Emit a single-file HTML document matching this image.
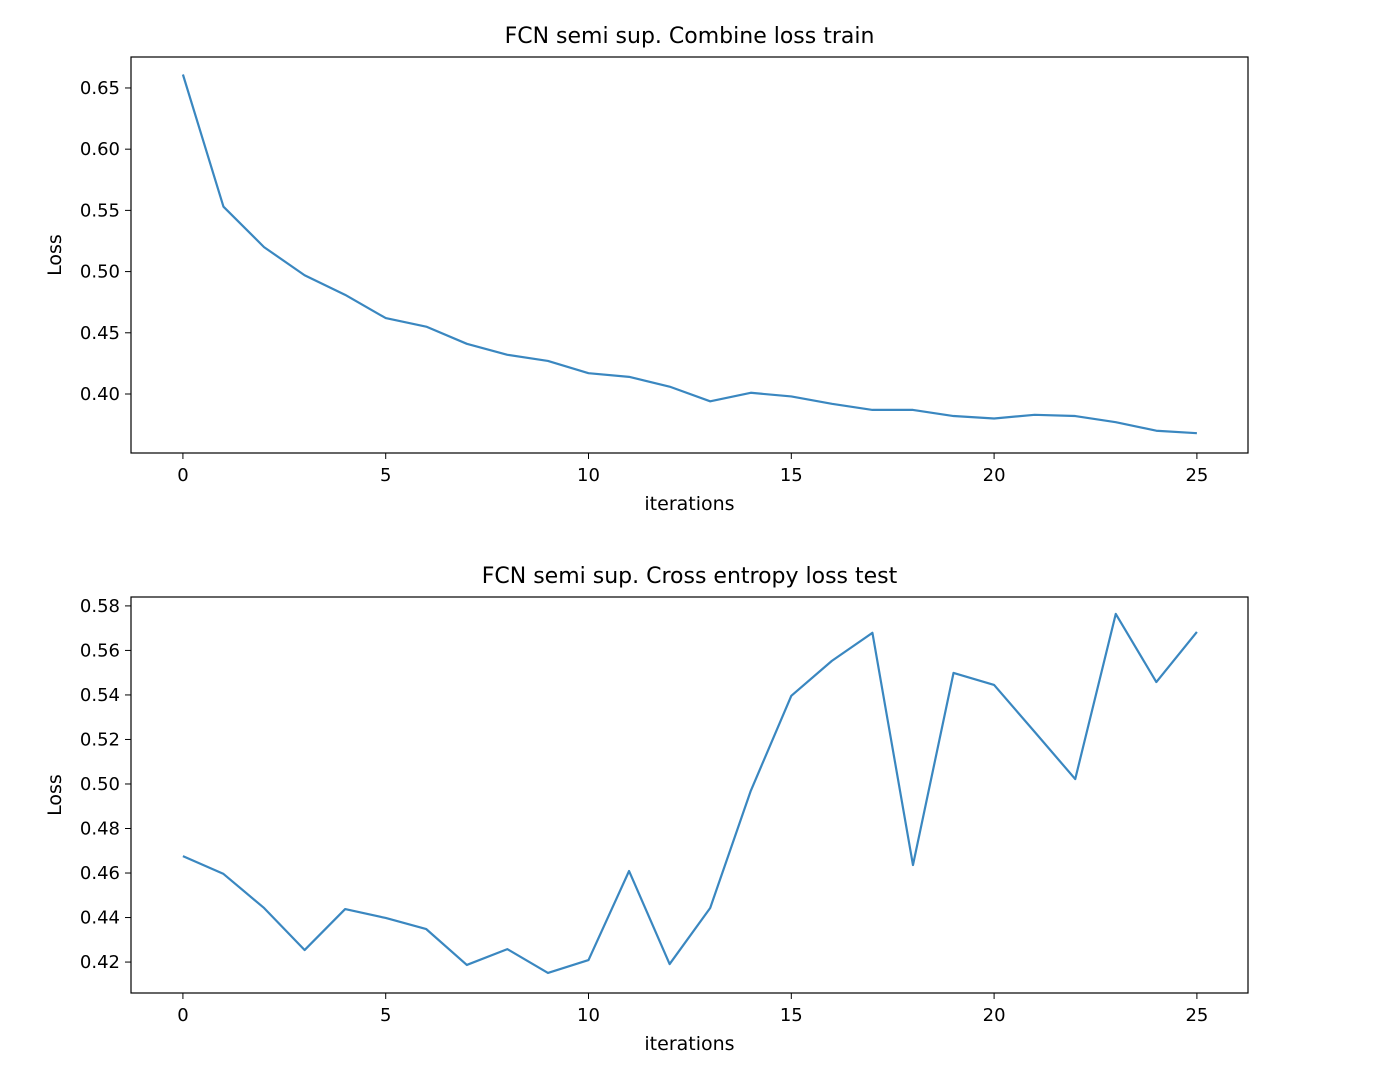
<!DOCTYPE html>
<html><head><meta charset="utf-8"><style>
body{margin:0;background:#fff;}
svg{display:block;font-family:"DejaVu Sans","Liberation Sans",sans-serif;}
</style></head><body>
<svg id="chart" width="1386" height="1090" viewBox="0 0 1386 1090"></svg>
<script>
const iterations=[0,1,2,3,4,5,6,7,8,9,10,11,12,13,14,15,16,17,18,19,20,21,22,23,24,25];
const trainLoss=[0.661,0.553,0.520,0.497,0.481,0.462,0.455,0.441,0.432,0.427,0.417,0.414,0.406,0.394,0.401,0.398,0.392,0.387,0.387,0.382,0.380,0.383,0.382,0.377,0.370,0.368];
const testLoss=[0.4676,0.4596,0.4443,0.4254,0.4438,0.4398,0.4348,0.4187,0.4258,0.4151,0.4209,0.4609,0.4191,0.4443,0.4969,0.5396,0.5553,0.5679,0.4636,0.5499,0.5445,0.5234,0.5022,0.5764,0.5458,0.5683];
const xTicks=[0,5,10,15,20,25];
const topYTicks=[0.40,0.45,0.50,0.55,0.60,0.65];
const botYTicks=[0.42,0.44,0.46,0.48,0.50,0.52,0.54,0.56,0.58];
const NS='http://www.w3.org/2000/svg';
const svg=document.getElementById('chart');
function mk(tag,attrs,parent){const e=document.createElementNS(NS,tag);for(const k in attrs)e.setAttribute(k,attrs[k]);(parent||svg).appendChild(e);return e;}
function panel(name,title,top,bottom,ymin,ymax,yTicks,data,dec){
  const L=131,R=1248;
  const g=mk('g',{});
  
  
  const xs=v=>L+(v-(-1.28))/(26.26-(-1.28))*(R-L);
  const ys=v=>bottom-(v-ymin)/(ymax-ymin)*(bottom-top);
  const t=mk('text',{x:(L+R)/2,y:top-14,'text-anchor':'middle','font-size':'22',fill:'#000'},g);t.textContent=title;
  
  xTicks.forEach(v=>{const x=xs(v);mk('line',{x1:x,x2:x,y1:bottom,y2:bottom+6,stroke:'#000','stroke-width':1},g);
    const tx=mk('text',{x:x,y:bottom+28,'text-anchor':'middle','font-size':'18',fill:'#000'},g);tx.textContent=v;
    });
  yTicks.forEach(v=>{const y=ys(v);mk('line',{x1:L-6,x2:L,y1:y,y2:y,stroke:'#000','stroke-width':1},g);
    const ty=mk('text',{x:L-11,y:y+6,'text-anchor':'end','font-size':'18',fill:'#000'},g);ty.textContent=v.toFixed(2);
    });
  const xl=mk('text',{x:(L+R)/2,y:bottom+57,'text-anchor':'middle','font-size':'19',fill:'#000'},g);xl.textContent='iterations';
  
  const cy=(top+bottom)/2;
  const yl=mk('text',{x:61,y:cy,'text-anchor':'middle','font-size':'19',fill:'#000',transform:`rotate(-90 61 ${cy})`},g);yl.textContent='Loss';
  
  const p=mk('polyline',{points:iterations.map((it,i)=>xs(it)+','+ys(data[i])).join(' '),fill:'none',stroke:'#3a87c0','stroke-width':2.2,'stroke-linejoin':'round'},g);
  
  const f=mk('rect',{x:L,y:top,width:R-L,height:bottom-top,fill:'none',stroke:'#000','stroke-width':1.2},g);
  
}
panel('train-loss-chart','FCN semi sup. Combine loss train',57,453,0.3518,0.6753,topYTicks,trainLoss);
panel('test-loss-chart','FCN semi sup. Cross entropy loss test',597,993,0.4061,0.584,botYTicks,testLoss);
</script>
</body></html>
